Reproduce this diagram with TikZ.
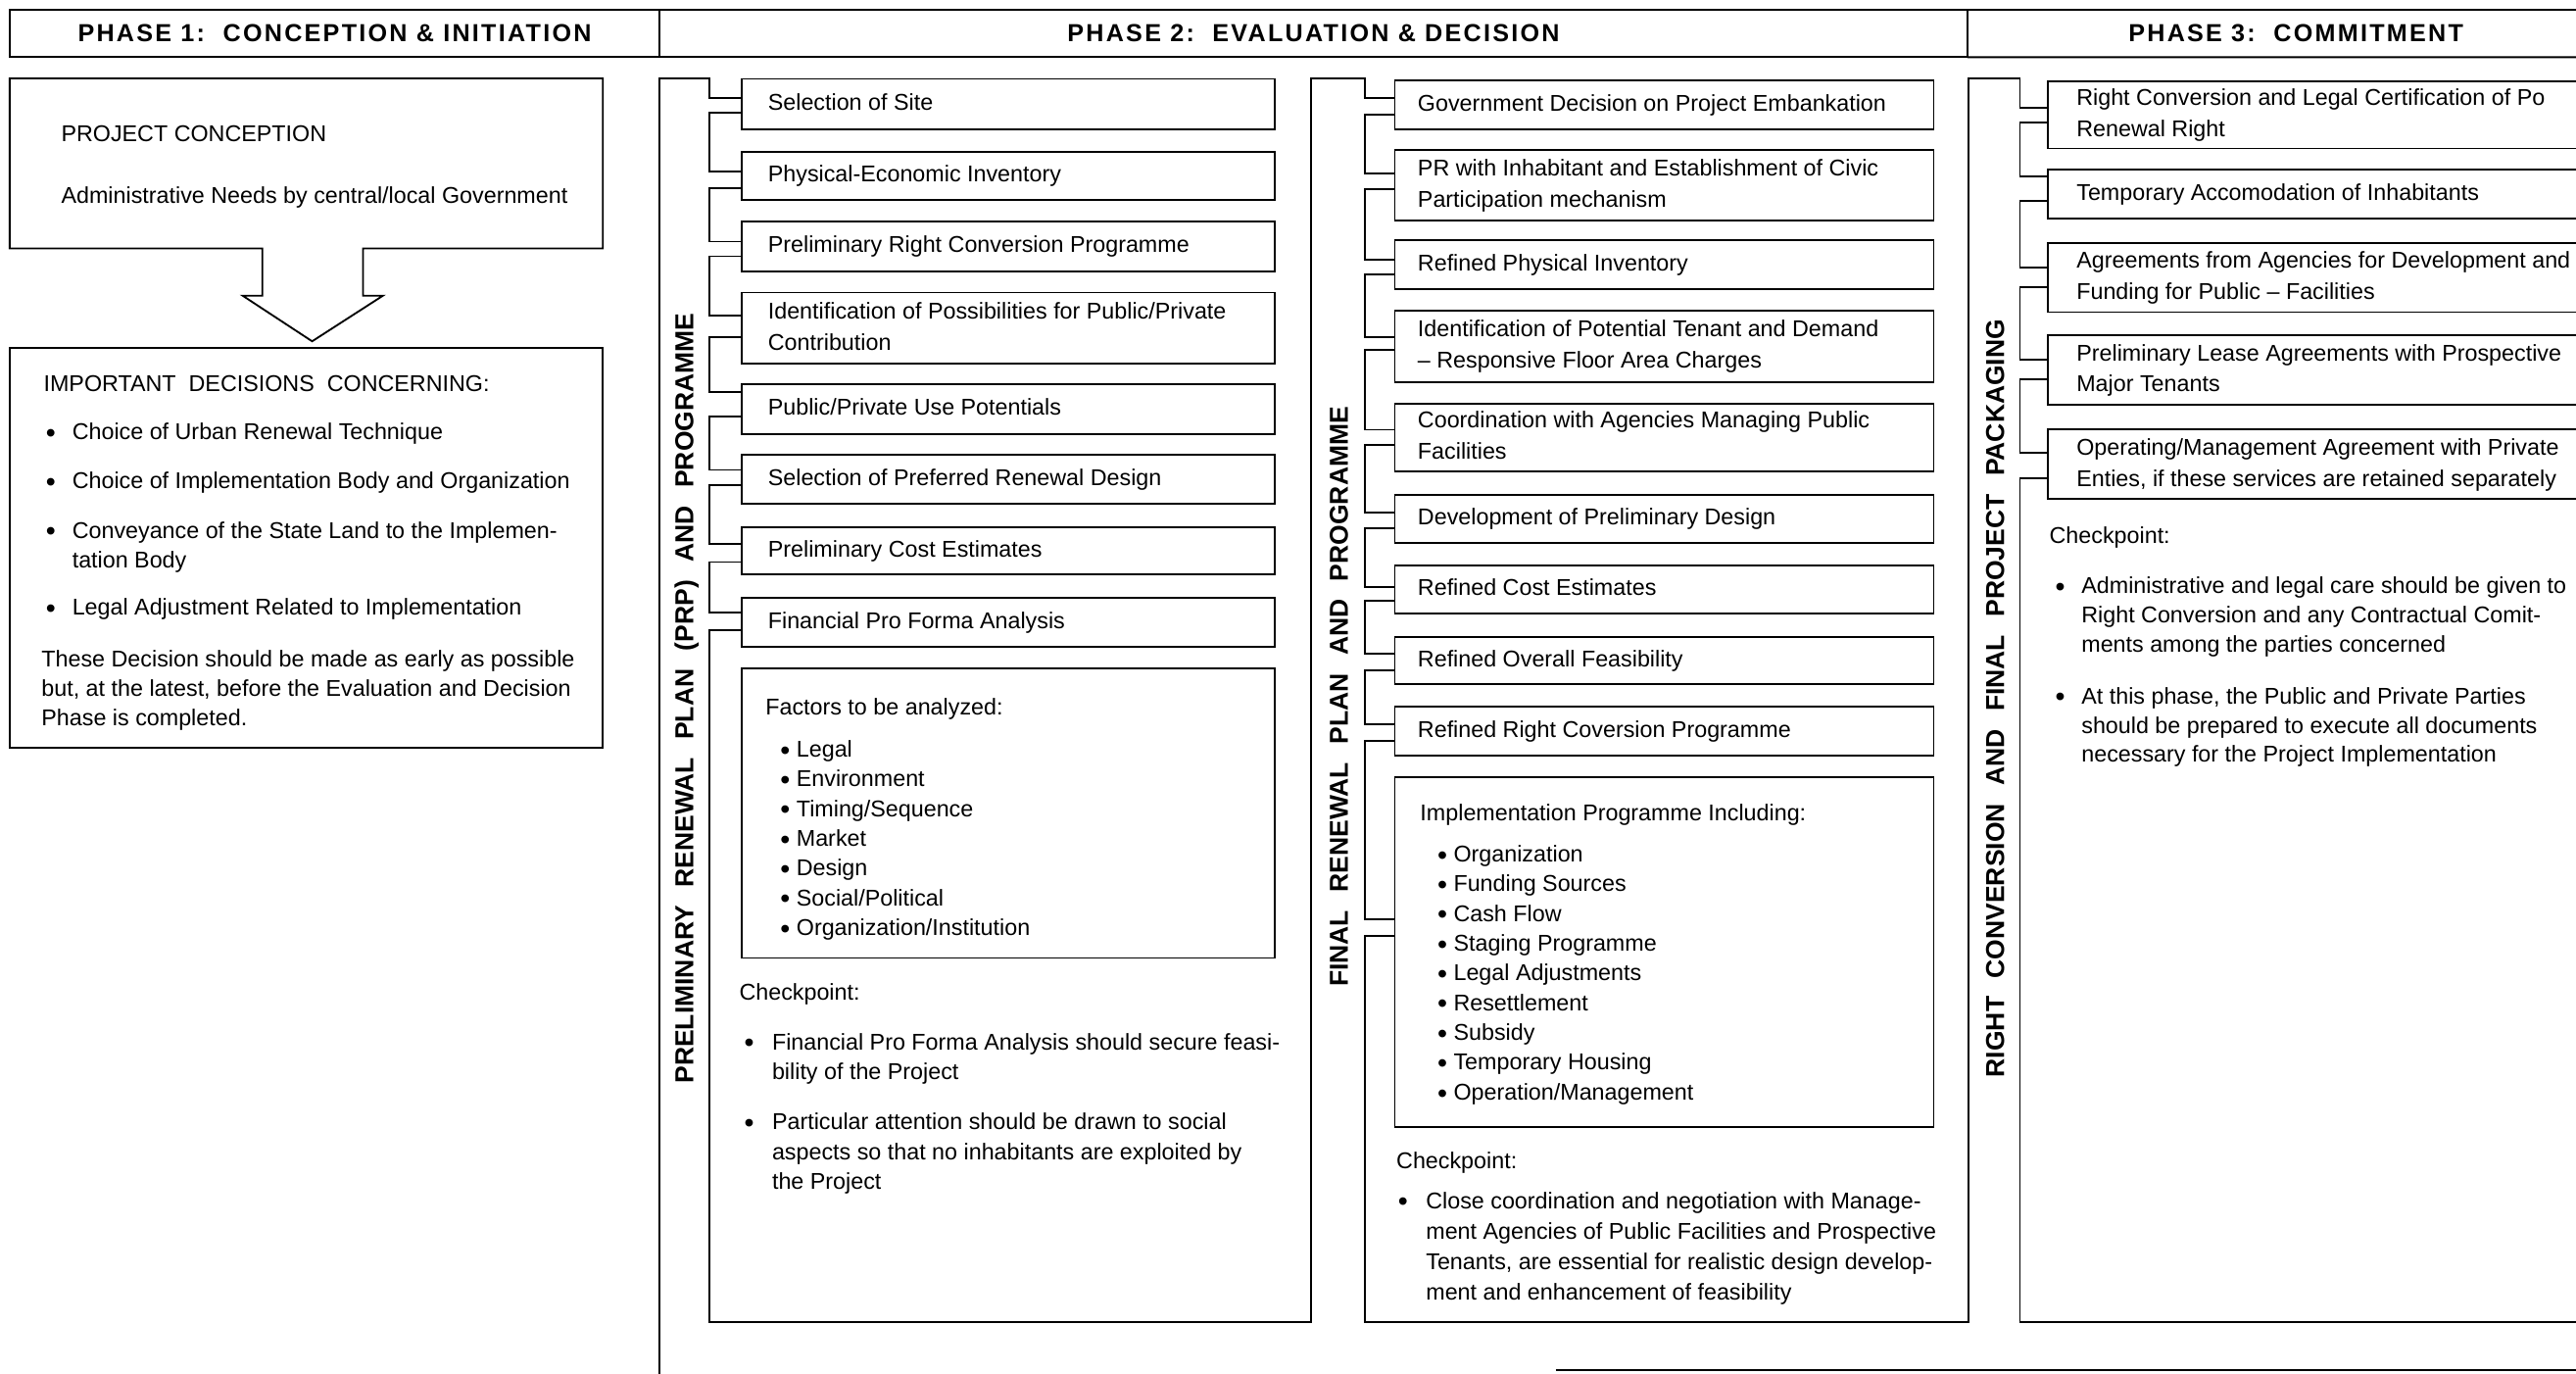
\documentclass[tikz,border=0pt]{standalone}
\usepackage{fontspec}
\setmainfont{Liberation Sans}
\newfontfamily\hdrfamily{Liberation Sans}[LetterSpace=9]
\newcommand\bodyfont{\fontsize{13.9}{19}\selectfont}
\newcommand\listfont{\fontsize{13.9}{18.1}\selectfont}
\newcommand\titlefont{\fontsize{15.8}{18}\selectfont\bfseries}
\newcommand\hdrfont{\hdrfamily\fontsize{15}{18}\selectfont\bfseries}
\newcommand\wgap{\hspace{11pt}}
\newcommand\bdot{\raisebox{-1.6pt}{\fontsize{17}{17}\selectfont\textbullet}}
\newcommand\bull[1]{\makebox[#1][l]{\bdot}}
\newcommand\itembox[7]{%
  \node[ibox,minimum width=#4pt,minimum height=#5pt] (#1) at (#2,#3) {};
  \node[itxt] (#1t) at ([xshift=#6pt]#1.west) {#7};}
\newcommand\ritembox[7]{%
  \node[obox,minimum width=#4pt,minimum height=#5pt] (#1) at (#2,#3) {};
  \draw (#1.north east) -- (#1.north west) -- (#1.south west) -- (#1.south east);
  \node[itxt] (#1t) at ([xshift=#6pt]#1.west) {#7};}
\newcommand\brk[5]{\draw (#1.west |- 0,#2) -- (#3,#2) |- (#4.west |- 0,#5);}
\begin{document}
\begin{tikzpicture}[x=1pt,y=-1pt,line width=1.1pt,
  every node/.style={inner sep=0pt,outer sep=0pt},
  ibox/.style={draw,rectangle,anchor=north west},
  obox/.style={rectangle,anchor=north west},
  itxt/.style={anchor=west,align=left,font=\bodyfont},
  btxt/.style={anchor=base west,font=\bodyfont},
  ltxt/.style={anchor=north west,align=left,font=\listfont},
  vtitle/.style={rotate=90,font=\titlefont},
  hdr/.style={draw,rectangle,anchor=north west,minimum height=28.8pt,font=\hdrfont}]
\useasboundingbox (0,0) rectangle (1568,836);

% ---------------- header ----------------
\node[hdr,minimum width=395.6pt] (h1) at (5.9,6) {PHASE 1:\ \ CONCEPTION \& INITIATION};
\node[hdr,minimum width=796pt] (h2) at (401.5,6) {PHASE 2:\ \ EVALUATION \& DECISION};
\node[font=\hdrfont] (h3) at (1397.5,20.4) {PHASE 3:\ \ COMMITMENT};
\coordinate (hTR) at (1568,6);
\coordinate (hBR) at (1568,34.8);
\draw (h2.north east) -- (hTR) (h2.south east) -- (hBR);

% ---------------- phase 1 ----------------
\node[obox,minimum width=361pt,minimum height=103.5pt] (conc) at (5.9,47.7) {};
\node[ibox,minimum width=361pt,minimum height=243.5pt] (dec) at (5.9,211.7) {};
\draw (159.7,151.2) -- (conc.south west) -- (conc.north west) -- (conc.north east)
  -- (conc.south east) -- (221,151.2) -- (221,180) -- (233,180) -- (190,207.7)
  -- (147.8,180) -- (159.7,180) -- cycle;
\node[btxt] (ph1a) at (37.3,86) {PROJECT CONCEPTION};
\node[btxt] (ph1b) at (37.3,124) {Administrative Needs by central/local Government};
\node[btxt] (d0) at (26.6,238.5) {IMPORTANT\ \ DECISIONS\ \ CONCERNING:};
\node[btxt] (d1) at (28,267.5) {\bull{16pt}Choice of Urban Renewal Technique};
\node[btxt] (d2) at (28,297.5) {\bull{16pt}Choice of Implementation Body and Organization};
\node[ltxt] (d3) at (28,314.9) {\strut\bull{16pt}Conveyance of the State Land to the Implemen-\\\hspace*{16pt}tation Body};
\node[btxt] (d4) at (28,374.5) {\bull{16pt}Legal Adjustment Related to Implementation};
\node[ltxt] (d5) at (25.3,392.9) {\strut These Decision should be made as early as possible\\but, at the latest, before the Evaluation and Decision\\Phase is completed.};

% ---------------- phase 2 : PRP ----------------
\itembox{p1}{451.5}{48}{324.5}{30.5}{16}{\strut Selection of Site}
\itembox{p2}{451.5}{92.4}{324.5}{29.3}{16}{\strut Physical-Economic Inventory}
\itembox{p3}{451.5}{135}{324.5}{30}{16}{\strut Preliminary Right Conversion Programme}
\itembox{p4}{451.5}{178}{324.5}{43.5}{16}{\strut Identification of Possibilities for Public/Private\\\strut Contribution}
\itembox{p5}{451.5}{234}{324.5}{30}{16}{\strut Public/Private Use Potentials}
\itembox{p6}{451.5}{276.5}{324.5}{30}{16}{\strut Selection of Preferred Renewal Design}
\itembox{p7}{451.5}{321}{324.5}{28.5}{16}{\strut Preliminary Cost Estimates}
\itembox{p8}{451.5}{364}{324.5}{29.5}{16}{\strut Financial Pro Forma Analysis}
\node[ibox,minimum width=324.5pt,minimum height=176pt] (pf) at (451.5,407) {};
\node[btxt] (pft) at (466,434.9) {Factors to be analyzed:};
\node[ltxt] (pfl) at (475,448.1) {\strut\bdot\ Legal\\\bdot\ Environment\\\bdot\ Timing/Sequence\\\bdot\ Market\\\bdot\ Design\\\bdot\ Social/Political\\\bdot\ Organization/Institution};
\node[btxt] (pck) at (450,608.9) {Checkpoint:};
\node[ltxt] (pca) at (453,626.1) {\strut\bull{17pt}Financial Pro Forma Analysis should secure feasi-\\\hspace*{17pt}bility of the Project};
\node[ltxt] (pcb) at (453,674.8) {\strut\bull{17pt}Particular attention should be drawn to social\\\hspace*{17pt}aspects so that no inhabitants are exploited by\\\hspace*{17pt}the Project};
\node[vtitle] (tprp) at (418,425) {PRELIMINARY\wgap RENEWAL\wgap PLAN\wgap (PRP)\wgap AND\wgap PROGRAMME};

% ---------------- phase 2 : FRP ----------------
\itembox{f1}{849}{48.7}{328}{29.8}{14}{\strut Government Decision on Project Embankation}
\itembox{f2}{849}{91.5}{328}{42.5}{14}{\strut PR with Inhabitant and Establishment of Civic\\\strut Participation mechanism}
\itembox{f3}{849}{146}{328}{30}{14}{\strut Refined Physical Inventory}
\itembox{f4}{849}{189}{328}{43.6}{14}{\strut Identification of Potential Tenant and Demand\\\strut -- Responsive Floor Area Charges}
\itembox{f5}{849}{245.5}{328}{41.5}{14}{\strut Coordination with Agencies Managing Public\\\strut Facilities}
\itembox{f6}{849}{301}{328}{29.5}{14}{\strut Development of Preliminary Design}
\itembox{f7}{849}{344}{328}{29.5}{14}{\strut Refined Cost Estimates}
\itembox{f8}{849}{387.5}{328}{29}{14}{\strut Refined Overall Feasibility}
\itembox{f9}{849}{430}{328}{30}{14}{\strut Refined Right Coversion Programme}
\node[ibox,minimum width=328pt,minimum height=213pt] (f10) at (849,473) {};
\node[btxt] (f10t) at (864.5,499.5) {Implementation Programme Including:};
\node[ltxt] (f10l) at (875,511.9) {\strut\bdot\ Organization\\\bdot\ Funding Sources\\\bdot\ Cash Flow\\\bdot\ Staging Programme\\\bdot\ Legal Adjustments\\\bdot\ Resettlement\\\bdot\ Subsidy\\\bdot\ Temporary Housing\\\bdot\ Operation/Management};
\node[btxt] (fck) at (850,711.5) {Checkpoint:};
\node[ltxt,font=\fontsize{13.9}{18.5}\selectfont] (fca) at (851,722.5) {\strut\bull{17pt}Close coordination and negotiation with Manage-\\\hspace*{17pt}ment Agencies of Public Facilities and Prospective\\\hspace*{17pt}Tenants, are essential for realistic design develop-\\\hspace*{17pt}ment and enhancement of feasibility};
\node[vtitle] (tfrp) at (815,424) {FINAL\wgap RENEWAL\wgap PLAN\wgap AND\wgap PROGRAMME};

% ---------------- phase 3 : RC ----------------
\ritembox{r1}{1246.5}{49.3}{321.5}{41.1}{17.5}{\strut Right Conversion and Legal Certification of Po\\\strut Renewal Right}
\ritembox{r2}{1246.5}{103.4}{321.5}{29.4}{17.5}{\strut Temporary Accomodation of Inhabitants}
\ritembox{r3}{1246.5}{148}{321.5}{42}{17.5}{\strut Agreements from Agencies for Development and\\\strut Funding for Public -- Facilities}
\ritembox{r4}{1246.5}{204}{321.5}{42.5}{17.5}{\strut Preliminary Lease Agreements with Prospective\\\strut Major Tenants}
\ritembox{r5}{1246.5}{261.4}{321.5}{42.3}{17.5}{\strut Operating/Management Agreement with Private\\\strut Enties, if these services are retained separately}
\node[btxt] (rck) at (1247.5,330.5) {Checkpoint:};
\node[ltxt,font=\fontsize{13.9}{17.8}\selectfont] (rca) at (1251,348.9) {\strut\bull{16pt}Administrative and legal care should be given to\\\hspace*{16pt}Right Conversion and any Contractual Comit-\\\hspace*{16pt}ments among the parties concerned};
\node[ltxt,font=\fontsize{13.9}{17.8}\selectfont] (rcb) at (1251,415.9) {\strut\bull{16pt}At this phase, the Public and Private Parties\\\hspace*{16pt}should be prepared to execute all documents\\\hspace*{16pt}necessary for the Project Implementation};
\node[vtitle] (trc) at (1214.5,425) {RIGHT\wgap CONVERSION\wgap AND\wgap FINAL\wgap PROJECT\wgap PACKAGING};

% ---------------- frames ----------------
\coordinate (prpTL) at (401.5,47.7);
\coordinate (prpBL) at (401.5,836);
\coordinate (frpTL) at (798,47.7);
\coordinate (rcTL) at (1198,47.7);
\coordinate (botA) at (947,834);
\coordinate (botB) at (1568,834);
\draw (prpBL) -- (prpTL) -- (431.6,47.7) |- (p1.west |- 0,59.6);
\draw (p8.west |- 0,383.6) -| (431.6,804.5) -- (798,804.5) -- (frpTL) -- (831,47.7) |- (f1.west |- 0,59.6);
\draw (f10.west |- 0,569.5) -| (831,804.5) -- (1198,804.5) -- (rcTL) -- (1229.5,47.7) |- (r1.west |- 0,65.6);
\draw (r5.west |- 0,291) -| (1229.5,804.5) -- (1568,804.5);
\draw (botA) -- (botB);

% ---------------- brackets ----------------
\brk{p1}{68.6}{431.6}{p2}{104.4}
\brk{p2}{114.3}{431.6}{p3}{147}
\brk{p3}{156}{431.6}{p4}{192}
\brk{p4}{205}{431.6}{p5}{238.6}
\brk{p5}{253.5}{431.6}{p6}{286}
\brk{p6}{295}{431.6}{p7}{331}
\brk{p7}{342}{431.6}{p8}{373}

\brk{f1}{69.6}{831}{f2}{105.4}
\brk{f2}{115}{831}{f3}{158}
\brk{f3}{167}{831}{f4}{205}
\brk{f4}{213}{831}{f5}{261.5}
\brk{f5}{271}{831}{f6}{312}
\brk{f6}{321.6}{831}{f7}{357}
\brk{f7}{365.6}{831}{f8}{398}
\brk{f8}{408}{831}{f9}{441}
\brk{f9}{451}{831}{f10}{559.5}

\brk{r1}{74.5}{1229.5}{r2}{107.4}
\brk{r2}{122.3}{1229.5}{r3}{163}
\brk{r3}{174.5}{1229.5}{r4}{218.7}
\brk{r4}{230.6}{1229.5}{r5}{275.3}
\end{tikzpicture}
\end{document}
